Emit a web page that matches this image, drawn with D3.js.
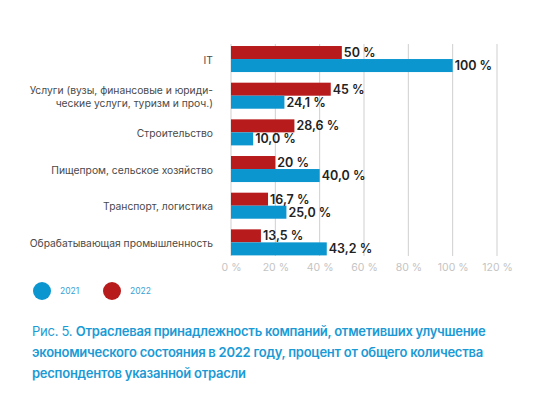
<!DOCTYPE html>
<html>
<head>
<meta charset="utf-8">
<script src="https://cdn.jsdelivr.net/npm/d3@7"></script>
<style>
  body { margin: 0; background: #fff; }
  svg { display: block; font-family: Inter, "Noto Sans", sans-serif; }
</style>
</head>
<body>
<svg id="chart" width="553" height="402"></svg>
<script>
// categories, top to bottom (first line / second line)
var categories = [
  ["IT"],
  ["Услуги (вузы, финансовые и юриди-", "ческие услуги, туризм и проч.)"],
  ["Строительство"],
  ["Пищепром, сельское хозяйство"],
  ["Транспорт, логистика"],
  ["Обрабатывающая промышленность"]
];
var values2022 = [50, 45, 28.6, 20, 16.7, 13.5];
var labels2022 = ["50 %", "45 %", "28,6 %", "20 %", "16,7 %", "13,5 %"];
var values2021 = [100, 24.1, 10.0, 40.0, 25.0, 43.2];
var labels2021 = ["100 %", "24,1 %", "10,0 %", "40,0 %", "25,0 %", "43,2 %"];
var xTicks = [0, 20, 40, 60, 80, 100, 120];
var seriesNames = ["2021", "2022"];

var blue = "#0b96cf", red = "#b71b1c";

var svg = d3.select("#chart");

// scales
var x = d3.scaleLinear().domain([0, 120]).range([231, 497]);
var y = d3.scaleBand()
  .domain(d3.range(categories.length))
  .range([40.7, 260.7])
  .paddingInner(0.29)
  .paddingOuter(0.145);
var bh = y.bandwidth() / 2;

// grid lines
svg.append("g").selectAll("line")
  .data(xTicks)
  .join("line")
    .attr("x1", d => x(d)).attr("x2", d => x(d))
    .attr("y1", 44).attr("y2", 256)
    .attr("stroke", "#cfcfcf")
    .attr("stroke-width", 1);

// x axis labels
var xAxis = d3.axisBottom(x).tickValues(xTicks).tickSize(0).tickPadding(0)
  .tickFormat(d => d + " %");
svg.append("g")
  .attr("transform", "translate(0,264)")
  .call(xAxis)
  .call(g => g.select(".domain").remove())
  .selectAll("text")
    .attr("fill", "#c4c4c4")
    .attr("font-size", 10.5)
    .attr("font-family", "Inter, 'Noto Sans', sans-serif");

// bars
var groups = svg.append("g").selectAll("g")
  .data(categories)
  .join("g")
    .attr("transform", (d, i) => "translate(0," + y(i) + ")");

groups.append("rect")
  .attr("x", x(0))
  .attr("y", 0)
  .attr("width", (d, i) => x(values2022[i]) - x(0))
  .attr("height", bh)
  .attr("fill", red);

groups.append("rect")
  .attr("x", x(0))
  .attr("y", bh)
  .attr("width", (d, i) => x(values2021[i]) - x(0))
  .attr("height", bh)
  .attr("fill", blue);

// value labels
groups.append("text")
  .attr("x", (d, i) => x(values2022[i]) + 2)
  .attr("y", bh / 2)
  .attr("dy", "0.36em")
  .attr("font-size", 12.5)
  .attr("font-weight", 600)
  .attr("fill", "#222")
  .text((d, i) => labels2022[i]);

groups.append("text")
  .attr("x", (d, i) => x(values2021[i]) + 2)
  .attr("y", bh * 1.5)
  .attr("dy", "0.36em")
  .attr("font-size", 12.5)
  .attr("font-weight", 600)
  .attr("fill", "#222")
  .text((d, i) => labels2021[i]);

// category labels
groups.append("text")
  .attr("text-anchor", "end")
  .attr("font-size", 10.3)
  .attr("fill", "#4a4a4a")
  .each(function(d) {
    var t = d3.select(this);
    var lh = 12.5;
    var start = bh - (d.length - 1) * lh / 2 + 1;
    d.forEach(function(line, k) {
      t.append("tspan")
        .attr("x", 213)
        .attr("y", start + k * lh)
        .attr("dy", "0.36em")
        .text(line);
    });
  });

// legend
var legend = svg.append("g").selectAll("g")
  .data(seriesNames)
  .join("g")
    .attr("transform", (d, i) => "translate(" + (42 + i * 70) + ",291)");
legend.append("circle")
  .attr("r", 9)
  .attr("fill", (d, i) => i === 0 ? blue : red);
legend.append("text")
  .attr("x", 18)
  .attr("dy", "0.36em")
  .attr("font-size", 8.5)
  .attr("fill", "#3a9fd6")
  .text(d => d);

// caption
var caption = [
  [["Рис. 5. ", 400], ["Отраслевая принадлежность компаний, отметивших улучшение", 600]],
  [["экономического состояния в 2022 году, процент от общего количества", 600]],
  [["респондентов указанной отрасли", 600]]
];
caption.forEach(function(line, k) {
  var t = svg.append("text")
    .attr("x", 32)
    .attr("y", 336 + k * 21)
    .attr("font-size", 13)
    .attr("letter-spacing", -0.25)
    .attr("fill", "#1b9ad5");
  line.forEach(function(part) {
    t.append("tspan").attr("font-weight", part[1]).text(part[0]);
  });
});
</script>
</body>
</html>
